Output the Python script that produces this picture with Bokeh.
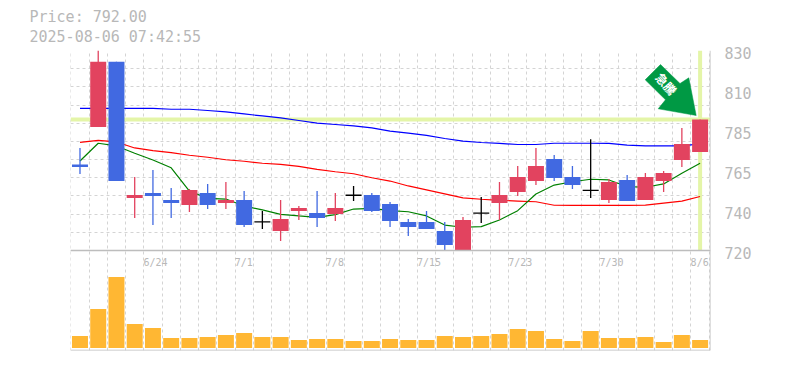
from bokeh.plotting import figure
from bokeh.embed import file_html
from bokeh.resources import INLINE
from bokeh.models import Range1d, LinearAxis, FixedTicker, Span, Label, PolyAnnotation, ColumnDataSource, Title
from bokeh.core.properties import value

# ---- data ----
opens  = [767.3,787.9,823.8,748.9,751.6,747.8,745.0,751.6,746.1,747.8,735.7,730.7,741.7,740.6,740.1,750.4,750.5,745.6,735.7,735.7,730.7,720.0,740.6,746.1,752.2,758.2,770.3,760.4,753.1,747.8,758.8,747.8,758.2,769.8,774.2]
closes = [765.9,823.8,758.2,750.5,750.0,746.1,753.3,745.0,747.8,734.0,735.7,737.3,743.4,737.9,743.4,750.4,741.7,736.2,732.9,731.8,723.0,736.8,740.6,750.5,760.4,766.5,759.9,756.0,753.1,757.7,747.2,760.4,762.6,778.6,792.0]
highs  = [776.4,830.0,823.8,760.4,764.3,754.4,753.8,756.6,757.7,752.7,741.7,747.8,744.5,752.7,751.6,755.5,751.6,746.7,737.3,741.7,735.7,738.4,749.4,757.7,766.5,776.4,772.5,766.5,781.2,759.3,761.5,762.6,763.7,787.4,792.0]
lows   = [762.1,787.9,758.2,737.9,734.0,737.9,741.2,742.8,742.8,732.9,731.8,725.2,736.8,732.9,736.2,747.2,741.2,732.9,728.0,731.8,720.0,720.0,735.1,736.8,750.0,756.0,758.2,753.8,748.9,746.1,747.2,747.8,752.2,765.9,774.2]
volumes = [12,39,71,24,20,10,10,11,13,15,11,11,8,9,9,7,7,9,8,8,12,11,12,14,19,17,9,7,17,10,10,11,6,13,8]
ma_long = [798.2,798.2,798.2,798.2,798.2,797.7,797.7,797.0,796.2,795.1,794.0,792.9,791.5,790.1,789.3,788.5,787.4,785.7,784.6,783.3,781.6,780.2,779.4,778.9,778.3,778.3,779.0,779.0,779.0,778.9,778.0,777.5,777.5,777.5,778.6]
ma_mid  = [779.5,780.6,779.7,776.4,774.9,773.8,772.4,771.3,769.9,769.1,768.0,767.4,766.3,764.6,763.3,762.2,760.0,758.2,755.5,753.3,751.1,748.9,748.2,747.6,747.2,746.8,744.9,744.8,744.8,744.8,744.8,745.0,746.1,747.2,749.7]
ma_short= [769.2,779.0,777.5,773.5,769.8,765.5,752.7,748.7,748.3,744.5,742.3,739.9,739.0,738.2,739.7,742.8,743.2,741.9,741.3,739.0,734.0,732.8,733.1,736.8,741.9,751.1,756.0,757.8,759.2,758.8,755.1,754.8,756.6,762.5,768.0]
date_labels = ["6/24","7/1","7/8","7/15","7/23","7/30","8/6"]
date_index  = [4,9,14,19,24,29,34]
price_ticks = [720,742,764,786,808,830]
price_tick_labels = ["720","740","765","785","810","830"]
last_price = 792.0
title_lines = ["Price: 792.00","2025-08-06 07:42:55"]
arrow_text = "急騰"

W, H = 769, 354
GRAY = "#b8b8b8"; GRID = "#d4d4d4"
MONO = "DejaVu Sans Mono"
RED = "#e2435f"; BLUE = "#4169e1"; ORANGE = "#ffb733"; HILITE = "#e4f5a8"; ARROW = "#009944"
n = len(opens)
xs = list(range(n))
BODY = 0.877

p = figure(width=W, height=H, output_backend="svg", toolbar_location=None,
           x_range=Range1d(-0.52, 34.57), y_range=Range1d(665, 830),
           min_border_left=70, min_border_right=W-710, min_border_top=50, min_border_bottom=H-350,
           background_fill_color="white", border_fill_color="white")
p.outline_line_color = None
p.xaxis.visible = False
p.yaxis.visible = False

p.xgrid[0].ticker = FixedTicker(ticks=[i-0.5 for i in range(n+1)])
p.ygrid[0].ticker = FixedTicker(ticks=list(range(720, 831, 10)))
for g in (p.xgrid[0], p.ygrid[0]):
    g.grid_line_color = GRID
    g.grid_line_dash = "3 3"
    g.grid_line_width = 1

p.extra_y_ranges = {"vol": Range1d(-2.5, 297.5), "lab": Range1d(666.375, 831.375)}

# price tick labels
ax = LinearAxis(y_range_name="lab", ticker=FixedTicker(ticks=price_ticks),
                major_label_overrides={t: l for t, l in zip(price_ticks, price_tick_labels)},
                axis_line_color=None, major_tick_line_color=None, minor_tick_line_color=None,
                major_label_text_color=GRAY, major_label_text_font=MONO,
                major_label_text_font_size="15px", major_label_standoff=8,
                major_label_text_baseline="middle")
p.add_layout(ax, "right")

# panel borders
p.add_layout(Span(location=720, dimension="width", line_color="#bdbdbd", line_width=1.5))
p.add_layout(Span(location=665, dimension="width", line_color="#bdbdbd", line_width=1.5))
p.add_layout(Span(location=34.57, dimension="height", line_color="#bdbdbd", line_width=1.5))

# last-price highlight
p.segment(x0=[-0.52], x1=[34.57], y0=[last_price], y1=[last_price], line_color=HILITE, line_width=4)
p.segment(x0=[n-1], x1=[n-1], y0=[720], y1=[830], line_color=HILITE, line_width=4)

# moving averages
p.line(xs, ma_long, line_color="#0000ff", line_width=1.2)
p.line(xs, ma_mid, line_color="#ff0000", line_width=1.2)
p.line(xs, ma_short, line_color="#008000", line_width=1.2)

# candles
for want, col in (("up", RED), ("down", BLUE), ("flat", "black")):
    idx = [i for i in xs if (closes[i] > opens[i] and want == "up")
           or (closes[i] < opens[i] and want == "down")
           or (closes[i] == opens[i] and want == "flat")]
    src = ColumnDataSource(dict(x=idx,
                                o=[opens[i] for i in idx], c=[closes[i] for i in idx],
                                h=[highs[i] for i in idx], l=[lows[i] for i in idx],
                                x0=[i-BODY/2 for i in idx], x1=[i+BODY/2 for i in idx]))
    p.segment("x", "h", "x", "l", source=src, line_color=col, line_width=1.3)
    if want == "flat":
        p.segment("x0", "o", "x1", "c", source=src, line_color=col, line_width=1.3)
    else:
        p.vbar(x="x", width=BODY, top="o", bottom="c", source=src, fill_color=col, line_color=None)

# volume
p.vbar(x=xs, width=BODY, top=volumes, bottom=0, y_range_name="vol", fill_color=ORANGE, line_color=None)

# date labels inside the volume panel
p.text(x=[i-0.52 for i in date_index], y=[86]*len(date_index), text=date_labels, y_range_name="vol",
       text_color=GRAY, text_font=value(MONO), text_font_size="10px",
       text_align="left", text_baseline="middle")

# header: stacked upward from the frame; the padding entry sets the gap
p.add_layout(Title(text=" ", align="left", standoff=2, text_font_size="1px"), "above")
for line in reversed(title_lines):
    p.add_layout(Title(text=line, align="left", offset=-41, standoff=0,
                       text_color=GRAY, text_font=MONO, text_font_size="15px",
                       text_font_style="normal"), "above")

# arrow badge
ax_px = [660, 644.7, 665, 657.7, 695.7, 688.3, 679.5]
ay_px = [64, 79.3, 99.3, 108.3, 115, 77.3, 83]
p.add_layout(PolyAnnotation(xs=ax_px, ys=ay_px, xs_units="canvas", ys_units="canvas",
                            fill_color=ARROW, fill_alpha=1, line_color=ARROW, line_alpha=1, line_width=0.5))
p.add_layout(Label(x=666, y=83, x_units="canvas", y_units="canvas", text=arrow_text,
                   angle=-48, angle_units="deg", text_color="white", text_font="Noto Sans CJK JP",
                   text_font_size="12px", text_font_style="bold", text_align="center", text_baseline="middle"))

open("out.html", "w").write(file_html(p, INLINE))
